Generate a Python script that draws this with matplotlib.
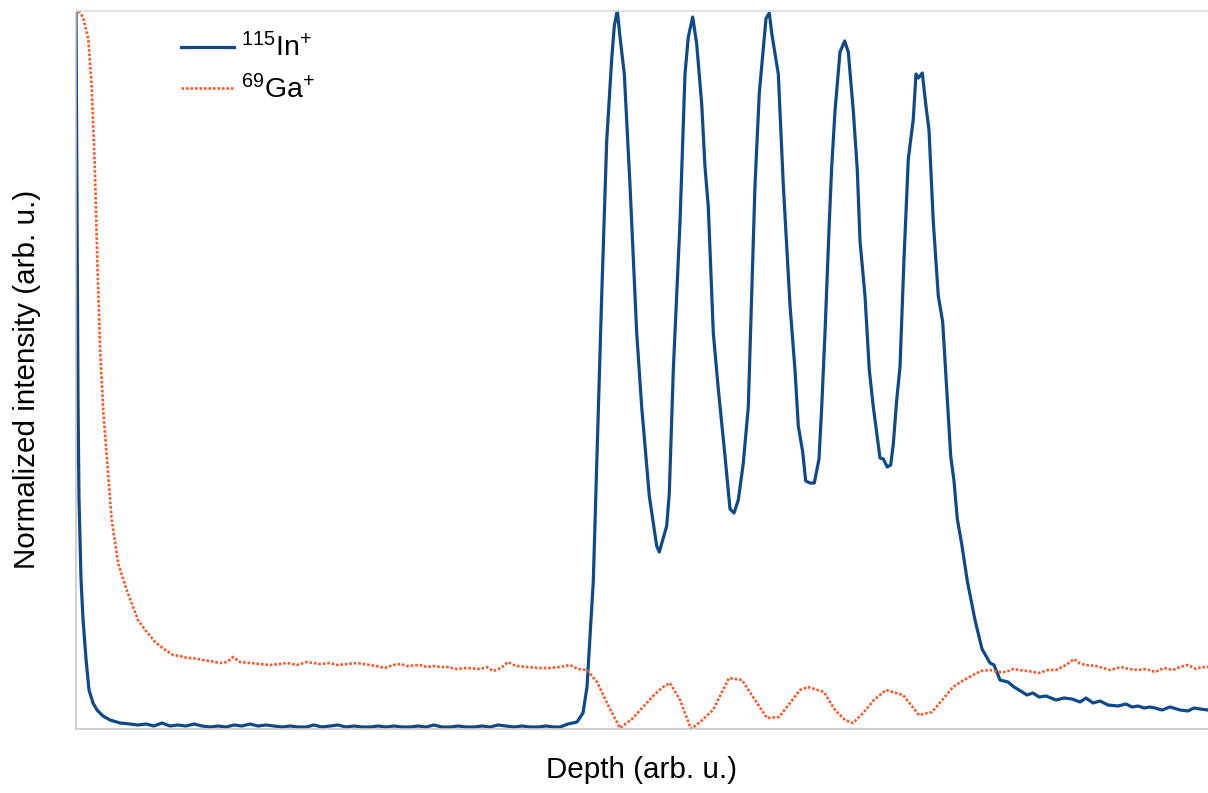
import matplotlib
matplotlib.use("Agg")
import matplotlib.pyplot as plt

plt.rcParams['font.family'] = ['Liberation Sans', 'DejaVu Sans']
plt.rcParams['mathtext.default'] = 'regular'

# ---- data (depth in arb. u., intensity in arb. u.) ----
in_depth = [0, 1, 2, 3, 5, 7, 10, 13, 17, 21, 27, 34, 44, 54,
            62, 70, 78, 86, 94, 102, 110, 118, 126, 134, 142, 150, 158, 166,
            174, 182, 190, 198, 206, 214, 222, 230, 238, 246, 254, 262, 270,
            278, 286, 294, 302, 310, 318, 326, 334, 342, 350, 358, 366, 374,
            382, 390, 398, 406, 414, 422, 430, 438, 446, 454, 462, 470, 478,
            484, 492, 501, 507, 511, 515, 517.3, 525.7, 530.7, 535.7, 538.3, 541.3,
            544, 548.3, 554, 560.7, 565.7, 573.3, 580.7, 583.3, 590.7, 593.3,
            597.3, 604, 609, 612.3, 616.7, 620.7, 625.7, 629, 632.3, 637.3,
            642.3, 649, 654, 658, 662.3, 667.3, 672.3, 675.7, 679, 683.3, 690,
            693.3, 695.7, 702.3, 707.3, 714, 719, 722.3, 726.7, 729.7, 734,
            738.3, 743, 745.7, 749, 753.3, 755.7, 759, 764, 768.7, 772.3, 777.3,
            781.3, 784, 789, 793.3, 797.3, 801.3, 804, 807.3, 811.3, 814.7,
            817.3, 820.7, 824, 828, 832.3, 837.3, 840, 842.3, 846.3, 849.7, 853,
            857.3, 862.3, 866.7, 870.7, 874.7, 878, 881.3, 885.7, 891.3, 899,
            906, 914, 918, 924, 932, 938, 943, 951, 957, 963, 970, 980, 988, 996,
            1004, 1010, 1017, 1024, 1032, 1042, 1050, 1056, 1062, 1068, 1074,
            1079, 1086, 1094, 1104, 1112, 1118, 1124, 1132]
in_int = [719, 530, 330, 230, 150, 110, 70, 39, 26, 19, 13, 9, 6, 5,
          4, 5, 3, 6, 3, 4, 3, 5, 3, 2, 3, 2, 4, 3,
          5, 3, 4, 3, 2, 3, 2, 2, 4, 2, 3, 4, 2,
          3, 2, 2, 3, 2, 3, 2, 2, 3, 2, 4, 2, 2,
          3, 2, 2, 3, 2, 4, 3, 2, 3, 2, 2, 3, 2,
          2, 5, 7, 16, 42, 109, 148, 433, 588, 670, 703, 718.6,
          692, 655, 544, 396, 322, 233, 183, 177, 203, 236,
          359, 507, 655, 692, 712, 685, 625, 562, 522, 396,
          340, 273, 220, 216, 229, 266, 322, 433, 544, 636, 710.5,
          716, 696, 655, 544, 424, 359, 303, 277, 248, 246,
          246, 270, 322, 396, 507, 562, 618, 677, 688, 677, 618,
          559, 488, 433, 359, 322, 292, 271, 270, 262, 264,
          285, 329, 362, 470, 570, 610, 655, 651, 656, 625, 599,
          507, 433, 407, 340, 273, 248, 210, 185, 148, 109,
          80, 66, 64, 49, 47, 42, 39, 34, 36, 32, 33, 29, 31, 30,
          27, 31, 26, 28, 24, 23, 25, 22, 23, 21, 22,
          21, 19, 22, 19, 18, 21, 20, 19]

ga_depth = [2.3, 7, 12.3, 15.7, 19, 21.3, 24, 27.3, 30.7, 35.7, 42.3, 50.7, 62,
            70, 79, 88, 97, 104, 111, 117, 127, 134, 144, 151, 157, 164, 174,
            184, 194, 204, 211, 221, 231, 244, 254, 261, 271, 281, 294, 300,
            309, 317, 325, 331, 344, 351, 357, 364, 371, 381, 391, 404, 411,
            417, 425, 432, 440, 451, 464, 474, 484, 494, 502, 511, 521, 532,
            544, 556, 567, 577, 587, 594, 604, 615, 624, 637, 653, 666, 679,
            691, 703, 714, 724, 732, 748, 759, 769, 777, 788, 798, 810, 827,
            843, 856, 867, 877, 888, 897, 905, 914, 922, 930, 937, 943, 952,
            963, 972, 980, 990, 998, 1003, 1009, 1020, 1034, 1045, 1053, 1062,
            1070, 1079, 1088, 1097, 1104, 1112, 1120, 1126, 1132]
ga_int = [718, 712, 690, 642, 556, 469, 382, 317, 274, 209, 165, 139, 109,
          98, 87, 80, 74, 73, 71, 71, 69, 68, 66, 67, 72, 67, 66,
          65, 64, 65, 66, 64, 67, 65, 66, 64, 65, 66, 64, 63,
          61, 64, 65, 63, 64, 62, 63, 62, 62, 60, 61, 60, 62,
          58, 61, 67, 63, 62, 61, 61, 62, 64, 60, 59, 47, 24,
          1, 10, 22, 33, 42, 46, 29, 0, 7, 19, 51, 49, 29,
          11, 12, 26, 39, 42, 37, 19, 9, 6, 17, 29, 39, 34,
          14, 17, 30, 42, 49, 54, 58, 59, 57, 57, 60, 59, 58,
          56, 59, 59, 64, 70, 66, 64, 63, 59, 62, 60, 59,
          60, 57, 61, 59, 62, 64, 60, 62, 62]

labels = [r'$^{115}$In$^{+}$', r'$^{69}$Ga$^{+}$']
x_label = 'Depth (arb. u.)'
y_label = 'Normalized intensity (arb. u.)'

blue = '#0E4A8A'
orange = '#FA5A2A'

fig = plt.figure(figsize=(12.08, 7.93), dpi=100)
ax = fig.add_axes([76 / 1208, 1 - 729 / 793, 1 - 76 / 1208, (729 - 10.5) / 793])

ax.plot(in_depth, in_int, color=blue, lw=2.3, label=labels[0],
        solid_joinstyle='round')
ax.plot(ga_depth, ga_int, color=orange, lw=1.9, linestyle=(0, (1, 0.7)),
        label=labels[1])

ax.set_xlim(0, 1132)
ax.set_ylim(0, 718.5)
ax.set_xticks([])
ax.set_yticks([])

ax.spines['right'].set_visible(False)
ax.spines['top'].set_color('#D9D9D9')
ax.spines['left'].set_color('#C4C4C4')
ax.spines['bottom'].set_color('#C4C4C4')
for s in ax.spines.values():
    s.set_linewidth(1.1)

ax.set_xlabel(x_label, fontsize=21.3)
ax.set_ylabel(y_label, fontsize=21.3)
ax.xaxis.set_label_coords(0.5, -0.038)
ax.yaxis.set_label_coords(-0.031, 0.487)

leg = ax.legend(loc='upper left', bbox_to_anchor=(0.0928, 0.968),
                frameon=False, fontsize=20.5, handlelength=1.85,
                handletextpad=0.25, borderpad=0, borderaxespad=0,
                labelspacing=0.42)

fig.savefig('out.png', dpi=100)
